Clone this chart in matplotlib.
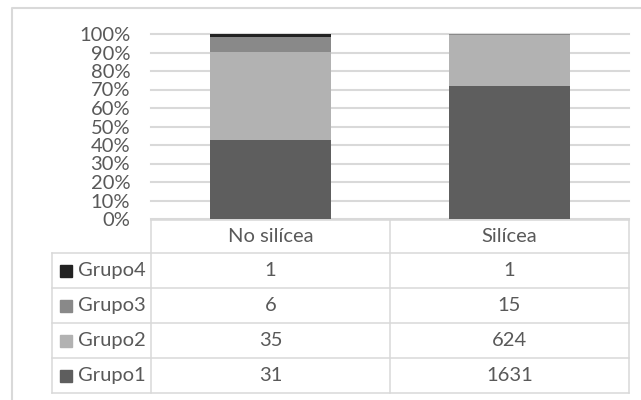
import numpy as np
import matplotlib
matplotlib.use("Agg")
import matplotlib.pyplot as plt

# data
categories = ["No silícea", "Silícea"]
groups = ["Grupo1", "Grupo2", "Grupo3", "Grupo4"]
grupo1 = [31, 1631]
grupo2 = [35, 624]
grupo3 = [6, 15]
grupo4 = [1, 1]
colors = ["#5e5e5e", "#b2b2b2", "#898989", "#222222"]

plt.rcParams["font.family"] = ["Lato", "DejaVu Sans"]
txt = "#595959"
line = "#d9d9d9"
fs = 14.5

W, H = 641, 400
fig = plt.figure(figsize=(W / 100, H / 100), dpi=100)

def px_axes(x0, y0, x1, y1):
    return fig.add_axes([x0 / W, 1 - y1 / H, (x1 - x0) / W, (y1 - y0) / H])

# overlay in pixel coords for border and data table
bg = fig.add_axes([0, 0, 1, 1])
bg.set_xlim(0, W)
bg.set_ylim(H, 0)
bg.axis("off")
bg.plot([11.5, 11.5, W], [H, 7.5, 7.5], color=line, lw=1.5)

ax = px_axes(151, 34, 629, 219)
series = np.array([grupo1, grupo2, grupo3, grupo4], dtype=float)
pct = series / series.sum(axis=0)
x = np.arange(len(categories))
bottom = np.zeros(len(categories))
for vals, c, name in zip(pct, colors, groups):
    ax.bar(x, vals, 0.51, bottom=bottom, color=c, label=name, zorder=3)
    bottom += vals

ticks = np.linspace(0, 1, 11)
for t in ticks:
    ax.axhline(t, color=line, lw=1.5, zorder=1, clip_on=False)
ax.set_xlim(-0.5, len(categories) - 0.5)
ax.set_ylim(0, 1)
ax.set_yticks(ticks)
ax.set_yticklabels([f"{int(round(t * 100))}%" for t in ticks])
ax.tick_params(axis="y", length=0, labelsize=fs, labelcolor=txt, pad=15)
ax.set_xticks([])
for s in ax.spines.values():
    s.set_visible(False)
ax.patch.set_alpha(0)

# data table
xs = [52, 151, 390, 629]
ys = [220, 253, 288, 323, 358, 393]
lw = 1.1
# header row
bg.plot([xs[1], xs[3]], [ys[0], ys[0]], color=line, lw=lw)
for i in range(1, len(ys)):
    bg.plot([xs[0], xs[3]], [ys[i], ys[i]], color=line, lw=lw)
bg.plot([xs[0], xs[0]], [ys[1], ys[-1]], color=line, lw=lw)
for xv in xs[1:]:
    bg.plot([xv, xv], [ys[0], ys[-1]], color=line, lw=lw)

for j, cat in enumerate(categories):
    bg.text((xs[j + 1] + xs[j + 2]) / 2, (ys[0] + ys[1]) / 2, cat,
            ha="center", va="center", fontsize=fs, color=txt)

rows = list(zip(groups, series, colors))[::-1]
for i, (name, vals, c) in enumerate(rows):
    yc = (ys[i + 1] + ys[i + 2]) / 2
    bg.add_patch(plt.Rectangle((60, yc - 6), 12, 12, color=c))
    bg.text(78, yc, name, ha="left", va="center", fontsize=fs, color=txt)
    for j, v in enumerate(vals):
        bg.text((xs[j + 1] + xs[j + 2]) / 2, yc, f"{int(v)}",
                ha="center", va="center", fontsize=fs, color=txt)

fig.savefig("out.png", dpi=100)
